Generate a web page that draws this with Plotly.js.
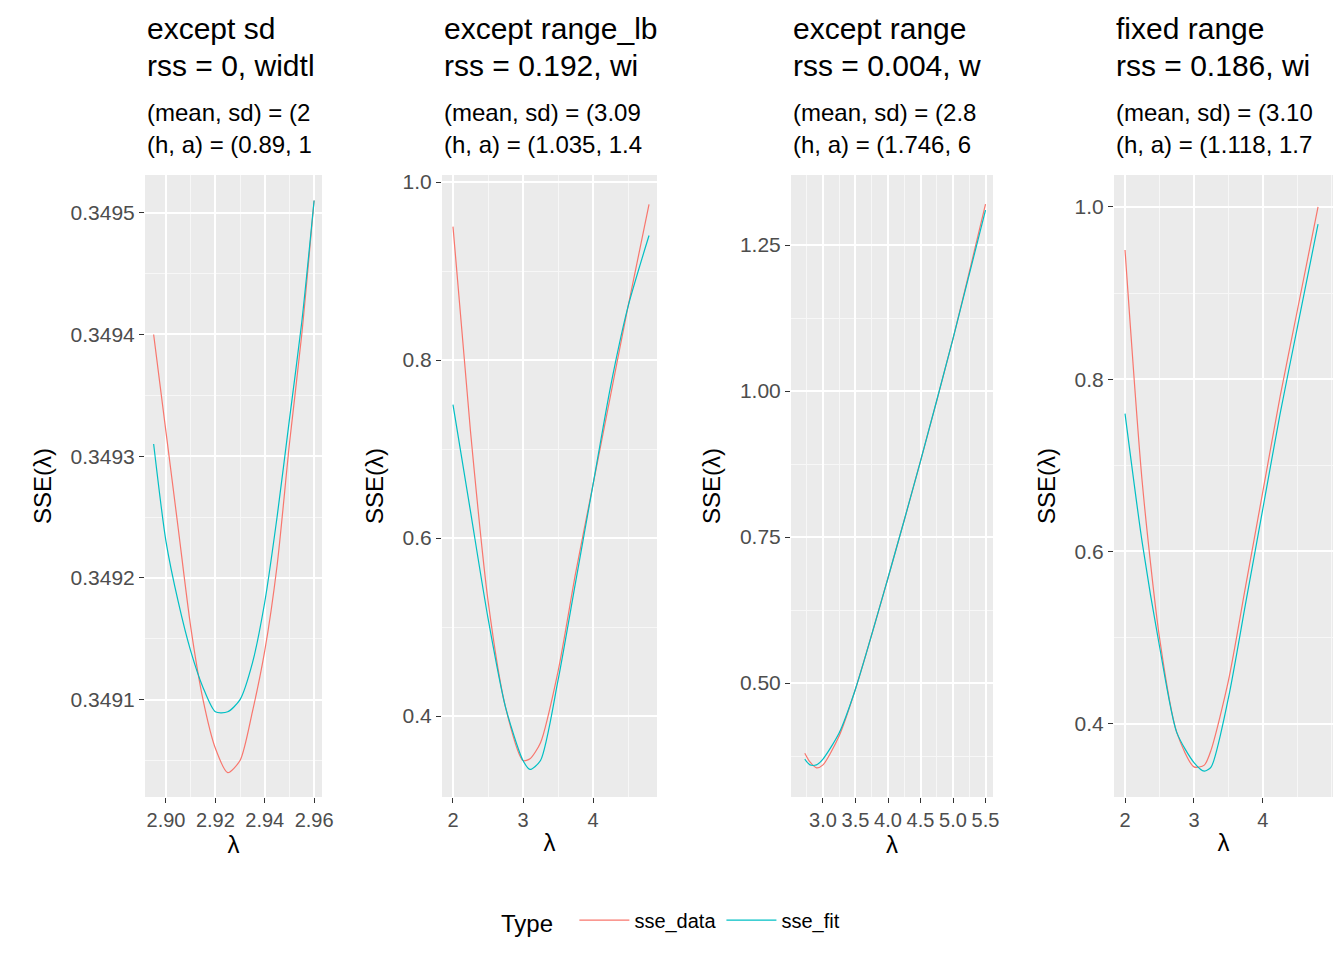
<!DOCTYPE html>
<html><head><meta charset="utf-8">
<script src="https://cdn.plot.ly/plotly-3.0.1.min.js"></script>
<style>body{margin:0}</style></head>
<body><div id="plot" style="width:1344px;height:960px"></div>
<script>
const titles1 = ['except sd', 'except range_lb', 'except range', 'fixed range'];
const titles2 = ['rss = 0, widtl', 'rss = 0.192, wi', 'rss = 0.004, w', 'rss = 0.186, wi'];
const titles3 = ['(mean, sd) = (2', '(mean, sd) = (3.09', '(mean, sd) = (2.8', '(mean, sd) = (3.10'];
const titles4 = ['(h, a) = (0.89, 1', '(h, a) = (1.035, 1.4', '(h, a) = (1.746, 6', '(h, a) = (1.118, 1.7'];

const x1 = [2.895, 2.90, 2.905, 2.91, 2.915, 2.92, 2.925, 2.93, 2.935, 2.94, 2.945, 2.95, 2.955, 2.96];
const data1 = [0.34940, 0.34932, 0.34924, 0.34916, 0.34910, 0.34906, 0.34904, 0.34905, 0.34909, 0.34914, 0.34921, 0.34931, 0.34940, 0.34951];
const fit1 = [0.34931, 0.34923, 0.34918, 0.34914, 0.34911, 0.34909, 0.34909, 0.34910, 0.34913, 0.34918, 0.34925, 0.34933, 0.34941, 0.34951];

const x2 = [2, 2.25, 2.5, 2.75, 3, 3.1, 3.25, 3.5, 3.75, 4, 4.25, 4.5, 4.8];
const data2 = [0.95, 0.72, 0.53, 0.41, 0.35, 0.352, 0.37, 0.45, 0.56, 0.66, 0.76, 0.86, 0.975];
const fit2 = [0.75, 0.63, 0.51, 0.41, 0.35, 0.34, 0.35, 0.44, 0.55, 0.66, 0.77, 0.86, 0.94];

const x3 = [2.72, 2.8, 2.9, 3.0, 3.25, 3.5, 4.0, 4.5, 5.0, 5.5];
const data3 = [0.38, 0.365, 0.355, 0.36, 0.41, 0.49, 0.68, 0.88, 1.09, 1.32];
const fit3 = [0.37, 0.36, 0.36, 0.37, 0.415, 0.49, 0.68, 0.88, 1.09, 1.31];

const x4 = [2, 2.25, 2.5, 2.75, 3, 3.15, 3.25, 3.5, 3.75, 4, 4.25, 4.5, 4.8];
const data4 = [0.95, 0.68, 0.50, 0.39, 0.35, 0.352, 0.37, 0.45, 0.56, 0.67, 0.78, 0.88, 1.0];
const fit4 = [0.76, 0.61, 0.49, 0.39, 0.355, 0.345, 0.35, 0.43, 0.54, 0.65, 0.76, 0.86, 0.98];

const xTicks = [[2.90, 2.92, 2.94, 2.96], [2, 3, 4], [3.0, 3.5, 4.0, 4.5, 5.0, 5.5], [2, 3, 4]];

const xs = [x1, x2, x3, x4];
const dataSets = [data1, data2, data3, data4];
const fitSets = [fit1, fit2, fit3, fit4];

const panelsPx = [[145, 322], [442, 657], [791, 993], [1114, 1333]];
const xRanges = [[2.8915, 2.9632], [1.843, 4.914], [2.508, 5.615], [1.84, 5.017]];
const yRanges = [[0.349020, 0.349531], [0.309, 1.008], [0.305, 1.37], [0.315, 1.037]];
const xDticks = [0.02, 1, 0.5, 1];
const yDticks = [0.0001, 0.2, 0.25, 0.2];
const yFormats = ['.4f', '.1f', '.2f', '.1f'];
const xFormats = ['.2f', 'd', '.1f', 'd'];

const red = '#F8766D', cyan = '#00BFC4';
const W = 1344, H = 960;
const yDom = [1 - 797 / H, 1 - 175 / H];

const traces = [];
const layout = {
  width: W, height: H,
  margin: {l: 0, r: 0, t: 0, b: 0},
  paper_bgcolor: 'white',
  plot_bgcolor: '#EBEBEB',
  font: {family: 'Arial, Liberation Sans, sans-serif', color: 'black'},
  showlegend: true,
  legend: {
    orientation: 'h', x: 0.5, xanchor: 'center', y: 0.04, yanchor: 'middle',
    title: {text: 'Type  ', font: {size: 24}},
    font: {size: 20}, itemwidth: 50
  },
  annotations: []
};

for (let i = 0; i < 4; i++) {
  const s = i === 0 ? '' : String(i + 1);
  traces.push({x: xs[i], y: dataSets[i], type: 'scatter', mode: 'lines', name: 'sse_data',
    line: {color: red, width: 1.2, shape: 'spline', smoothing: 0.7}, xaxis: 'x' + s, yaxis: 'y' + s,
    legendgroup: 'd', showlegend: i === 0});
  traces.push({x: xs[i], y: fitSets[i], type: 'scatter', mode: 'lines', name: 'sse_fit',
    line: {color: cyan, width: 1.2, shape: 'spline', smoothing: 0.7}, xaxis: 'x' + s, yaxis: 'y' + s,
    legendgroup: 'f', showlegend: i === 0});
  const [a, b] = panelsPx[i];
  layout['xaxis' + s] = {
    domain: [a / W, b / W], range: xRanges[i], anchor: 'y' + s,
    tickvals: xTicks[i], tickformat: xFormats[i], ticks: 'outside', ticklen: 5, tickcolor: '#333',
    gridcolor: 'white', gridwidth: 1.5, zeroline: false,
    minor: {dtick: xDticks[i] / 2, showgrid: true, gridcolor: '#F7F7F7', gridwidth: 0.7},
    tickfont: {size: 20, color: '#4D4D4D'},
    title: {text: 'λ', font: {size: 24}, standoff: 4}
  };
  layout['yaxis' + s] = {
    domain: yDom, range: yRanges[i], anchor: 'x' + s,
    dtick: yDticks[i], tickformat: yFormats[i], ticks: 'outside', ticklen: 5, tickcolor: '#333',
    gridcolor: 'white', gridwidth: 1.5, zeroline: false,
    minor: {dtick: yDticks[i] / 2, showgrid: true, gridcolor: '#F7F7F7', gridwidth: 0.7},
    tickfont: {size: 21, color: '#4D4D4D'},
    title: {text: 'SSE(λ)', font: {size: 24}, standoff: 12}
  };
  const lines = [[titles1[i], 30, 28], [titles2[i], 30, 66], [titles3[i], 24, 113], [titles4[i], 24, 145]];
  lines.forEach(([t, size, py]) => {
    layout.annotations.push({text: t, xref: 'paper', yref: 'paper', x: a / W, y: 1 - py / H,
      xanchor: 'left', yanchor: 'middle', showarrow: false, font: {size: size}});
  });
}

Plotly.newPlot(document.getElementById('plot'), traces, layout, {displayModeBar: false});
</script></body></html>
